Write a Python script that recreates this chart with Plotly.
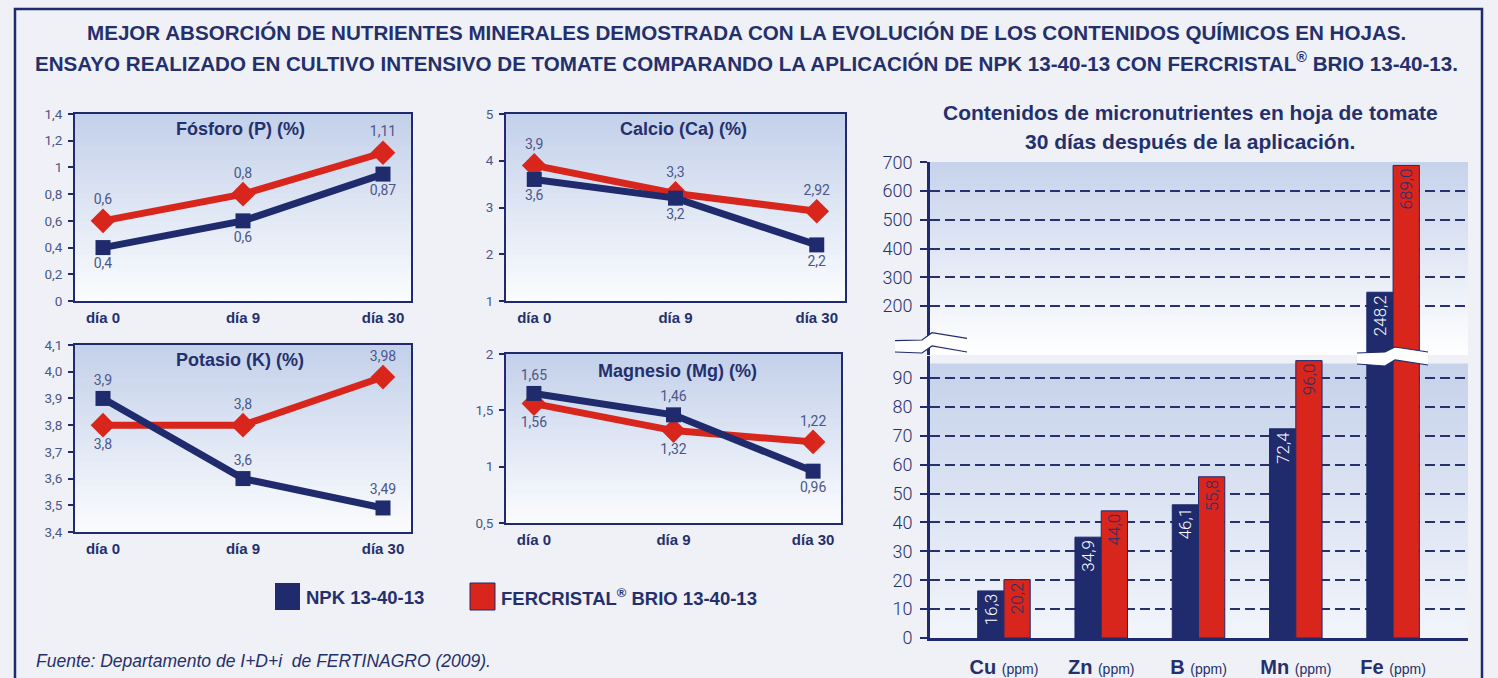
import plotly.graph_objects as go

W, H = 1498, 678
NAVY = '#1f2b6c'
RED = '#d8261d'
TXT = '#24306c'
LBL = '#4b5789'
BG = '#eff1f6'
SANS = 'Liberation Sans, Arial, sans-serif'
LIGHT = 'Roboto, Lato, sans-serif'

# ---------------- data ----------------
days = ['día 0', 'día 9', 'día 30']
name_npk = 'NPK 13-40-13'
name_fer = 'FERCRISTAL<sup>®</sup> BRIO 13-40-13'

p_npk = [0.4, 0.6, 0.95]
p_npk_labels = ['0,4', '0,6', '0,87']
p_fer = [0.6, 0.8, 1.11]
p_fer_labels = ['0,6', '0,8', '1,11']

ca_npk = [3.6, 3.2, 2.2]
ca_fer = [3.9, 3.3, 2.92]

k_npk = [3.9, 3.6, 3.49]
k_fer = [3.8, 3.8, 3.98]

mg_npk = [1.65, 1.46, 0.96]
mg_fer = [1.56, 1.32, 1.22]

p_ticks = [0, 0.2, 0.4, 0.6, 0.8, 1.0, 1.2, 1.4]
p_ticktext = ['0', '0,2', '0,4', '0,6', '0,8', '1', '1,2', '1,4']
ca_ticks = [1, 2, 3, 4, 5]
ca_ticktext = ['1', '2', '3', '4', '5']
k_ticks = [3.4, 3.5, 3.6, 3.7, 3.8, 3.9, 4.0, 4.1]
k_ticktext = ['3,4', '3,5', '3,6', '3,7', '3,8', '3,9', '4,0', '4,1']
mg_ticks = [0.5, 1.0, 1.5, 2.0]
mg_ticktext = ['0,5', '1', '1,5', '2']

elements = ['Cu', 'Zn', 'B', 'Mn', 'Fe']
element_ticktext = ['<b>Cu</b> <span style="font-size:14px">(ppm)</span>',
                    '<b>Zn</b> <span style="font-size:14px">(ppm)</span>',
                    '<b>B</b> <span style="font-size:14px">(ppm)</span>',
                    '<b>Mn</b> <span style="font-size:14px">(ppm)</span>',
                    '<b>Fe</b> <span style="font-size:14px">(ppm)</span>']
micro_npk = [16.3, 34.9, 46.1, 72.4, 248.2]
micro_fer = [20.2, 44.0, 55.8, 96.0, 689.0]
low_ticks = [0, 10, 20, 30, 40, 50, 60, 70, 80, 90]
high_ticks = [200, 300, 400, 500, 600, 700]


# ---------------- helpers ----------------
def fx(px):
    return px / W


def fy(py):
    return 1 - py / H


def fmt(v):
    return ('%g' % v).replace('.', ',')


def fmt1(v):
    return ('%.1f' % v).replace('.', ',')


def hex2rgb(h):
    h = h.lstrip('#')
    return [int(h[i:i + 2], 16) for i in (0, 2, 4)]


def mix(c_bottom, c_top, t):
    a, b = hex2rgb(c_bottom), hex2rgb(c_top)
    return 'rgb(%d,%d,%d)' % tuple(round(a[i] + (b[i] - a[i]) * t) for i in range(3))


shapes = []
annotations = []


def gradient(xref, yref, y0, y1, top, bottom, n=40):
    step = (y1 - y0) / n
    for k in range(n):
        lo = y0 + step * k
        hi = lo + step * (1.0 if k == n - 1 else 1.6)
        shapes.append(dict(type='rect', xref=xref, yref=yref, x0=0, x1=1, y0=lo, y1=hi,
                           fillcolor=mix(bottom, top, (k + 0.5) / n), line=dict(width=0),
                           layer='below'))


def path(points, close=False):
    s = 'M ' + ' L '.join('%.5f,%.5f' % (fx(x), fy(y)) for x, y in points)
    return s + (' Z' if close else '')


def bold(size):
    return dict(family=SANS, size=size, color=TXT, weight='bold')


fig = go.Figure()
layout = {}

# ---------------- small line charts ----------------
panels = [
    dict(title='Fósforo (P) (%)', npk=p_npk, fer=p_fer, npk_text=p_npk_labels, fer_text=p_fer_labels,
         box=(75, 411, 114, 301), rng=[0, 1.4], tv=p_ticks, tt=p_ticktext, tpos=(241, 129),
         npk_pos=['bottom center'] * 3, fer_pos=['top center'] * 3),
    dict(title='Calcio (Ca) (%)', npk=ca_npk, fer=ca_fer, npk_text=[fmt(v) for v in ca_npk],
         fer_text=[fmt(v) for v in ca_fer],
         box=(506, 845, 114, 301), rng=[1, 5], tv=ca_ticks, tt=ca_ticktext, tpos=(683, 129),
         npk_pos=['bottom center'] * 3, fer_pos=['top center'] * 3),
    dict(title='Potasio (K) (%)', npk=k_npk, fer=k_fer, npk_text=[fmt(v) for v in k_npk],
         fer_text=[fmt(v) for v in k_fer],
         box=(75, 411, 345, 532), rng=[3.4, 4.1], tv=k_ticks, tt=k_ticktext, tpos=(240, 360),
         npk_pos=['top center'] * 3, fer_pos=['bottom center', 'top center', 'top center']),
    dict(title='Magnesio (Mg) (%)', npk=mg_npk, fer=mg_fer, npk_text=[fmt(v) for v in mg_npk],
         fer_text=[fmt(v) for v in mg_fer],
         box=(506, 841, 354, 523), rng=[0.5, 2], tv=mg_ticks, tt=mg_ticktext, tpos=(677, 371),
         npk_pos=['top center', 'top center', 'bottom center'],
         fer_pos=['bottom center', 'bottom center', 'top center']),
]

for i, p in enumerate(panels, start=1):
    sfx = '' if i == 1 else str(i)
    xa, ya = 'x' + sfx, 'y' + sfx
    l, r, t, b = p['box']
    layout['xaxis' + sfx] = dict(
        domain=[fx(l), fx(r)], anchor=ya, type='category', categoryorder='array',
        categoryarray=days, range=[-0.2, 2.2], showline=True, mirror=True, linecolor=NAVY,
        linewidth=2, ticks='', showgrid=False, zeroline=False, fixedrange=True,
        automargin=False, tickfont=dict(family=SANS, size=15, color=TXT, weight='bold'),
        ticklabelstandoff=2)
    layout['yaxis' + sfx] = dict(
        domain=[fy(b), fy(t)], anchor=xa, range=p['rng'], tickvals=p['tv'], ticktext=p['tt'],
        ticks='outside', ticklen=5, tickcolor=NAVY, tickwidth=1.5, showline=True, mirror=True,
        linecolor=NAVY, linewidth=2, showgrid=False, zeroline=False, fixedrange=True,
        automargin=False, tickfont=dict(family=LIGHT, size=13.5, color=LBL), ticklabelstandoff=3)
    gradient(xa + ' domain', ya + ' domain', 0, 1, '#c3d0ea', '#fbfcfe')
    fig.add_trace(go.Scatter(
        x=days, y=p['fer'], xaxis=xa, yaxis=ya, mode='lines+markers+text', name=name_fer,
        line=dict(color=RED, width=7), marker=dict(symbol='diamond', size=19, color=RED),
        text=p['fer_text'], textposition=p['fer_pos'], cliponaxis=False, showlegend=False,
        textfont=dict(family=LIGHT, size=14, color=LBL)))
    fig.add_trace(go.Scatter(
        x=days, y=p['npk'], xaxis=xa, yaxis=ya, mode='lines+markers+text', name=name_npk,
        line=dict(color=NAVY, width=7), marker=dict(symbol='square', size=15, color=NAVY),
        text=p['npk_text'], textposition=p['npk_pos'], cliponaxis=False, showlegend=False,
        textfont=dict(family=LIGHT, size=14, color=LBL)))
    annotations.append(dict(text=p['title'], xref='paper', yref='paper',
                            x=fx(p['tpos'][0]), y=fy(p['tpos'][1]), showarrow=False,
                            xanchor='center', yanchor='middle', font=bold(18)))

# ---------------- micronutrient bar chart (broken axis) ----------------
X_L, X_R = 930, 1468
LOW_TOP, LOW_BOT = 356, 638
HIGH_TOP, HIGH_BOT = 162, 355
low_range = [0, 97.6]
high_range = [30, 701]
xr = [-0.76, 4.77]

low_npk_text = [fmt1(v) if v <= low_range[1] else '' for v in micro_npk]
low_fer_text = [fmt1(v) if v <= low_range[1] else '' for v in micro_fer]
high_npk = [v if v > low_range[1] else None for v in micro_npk]
high_fer = [v if v > low_range[1] else None for v in micro_fer]
high_npk_text = [fmt1(v) if v > low_range[1] else '' for v in micro_npk]
high_fer_text = [fmt1(v) if v > low_range[1] else '' for v in micro_fer]

grid = dict(showgrid=True, gridcolor='#26326e', gridwidth=1.5, griddash='10px,5px')
ytickfont = dict(family=LIGHT, size=18, color=TXT, weight=300)

layout['xaxis5'] = dict(domain=[fx(X_L), fx(X_R)], anchor='y5', type='category',
                        categoryorder='array', categoryarray=elements, range=xr,
                        tickvals=elements, ticktext=element_ticktext, ticks='',
                        showline=True, linecolor=NAVY, linewidth=3, showgrid=False,
                        zeroline=False, fixedrange=True, automargin=False, ticklabelstandoff=9,
                        tickfont=dict(family=SANS, size=20, color=TXT))
layout['yaxis5'] = dict(domain=[fy(LOW_BOT), fy(LOW_TOP)], anchor='x5', range=low_range,
                        tickvals=low_ticks, ticks='outside', ticklen=7, tickcolor=NAVY,
                        tickwidth=2, showline=True, linecolor=NAVY, linewidth=3,
                        zeroline=False, fixedrange=True, automargin=False, tickfont=ytickfont,
                        ticklabelstandoff=4, **grid)
layout['xaxis6'] = dict(domain=[fx(X_L), fx(X_R)], anchor='y6', type='category',
                        categoryorder='array', categoryarray=elements, range=xr,
                        showticklabels=False, ticks='', showline=False, showgrid=False,
                        zeroline=False, fixedrange=True, automargin=False)
layout['yaxis6'] = dict(domain=[fy(HIGH_BOT), fy(HIGH_TOP)], anchor='x6', range=high_range,
                        tickvals=high_ticks, ticks='outside', ticklen=7, tickcolor=NAVY,
                        tickwidth=2, showline=True, linecolor=NAVY, linewidth=3,
                        zeroline=False, fixedrange=True, automargin=False, tickfont=ytickfont,
                        ticklabelstandoff=4, **grid)

gradient('x5 domain', 'y5', 0, 95, '#c6d2eb', '#f2f5fb')
gradient('x6 domain', 'y6 domain', 0, 1, '#c6d2eb', '#ffffff')

barfont_w = dict(family=LIGHT, size=17, color='white', weight=300)
barfont_n = dict(family=LIGHT, size=17, color=TXT, weight=300)
common = dict(textposition='inside', insidetextanchor='end', textangle=-90, showlegend=False)
fig.add_trace(go.Bar(x=elements, y=micro_npk, xaxis='x5', yaxis='y5', name=name_npk,
                     text=low_npk_text, textfont=barfont_w,
                     marker=dict(color=NAVY, line=dict(color=NAVY, width=1)), **common))
fig.add_trace(go.Bar(x=elements, y=micro_fer, xaxis='x5', yaxis='y5', name=name_fer,
                     text=low_fer_text, textfont=barfont_n,
                     marker=dict(color=RED, line=dict(color=NAVY, width=1)), **common))
fig.add_trace(go.Bar(x=elements, y=high_npk, xaxis='x6', yaxis='y6', name=name_npk,
                     text=high_npk_text, textfont=barfont_w,
                     marker=dict(color=NAVY, line=dict(color=NAVY, width=1)), **common))
fig.add_trace(go.Bar(x=elements, y=high_fer, xaxis='x6', yaxis='y6', name=name_fer,
                     text=high_fer_text, textfont=barfont_n,
                     marker=dict(color=RED, line=dict(color=NAVY, width=1)), **common))

# axis-break symbols
brk_axis_top = [(895, 340.7), (922, 340), (932, 332.7), (967, 338.3)]
brk_axis_bot = [(967, 352), (932, 346), (922, 353), (895, 352)]
brk_fe_top = [(1357, 353), (1385, 352), (1395, 347), (1428, 352)]
brk_fe_bot = [(1428, 365), (1395, 360), (1385, 366), (1357, 364)]
for top, bot in ((brk_axis_top, brk_axis_bot), (brk_fe_top, brk_fe_bot)):
    shapes.append(dict(type='path', xref='paper', yref='paper', path=path(top + bot, True),
                       fillcolor='white', line=dict(width=0), layer='above'))
    shapes.append(dict(type='path', xref='paper', yref='paper', path=path(top),
                       line=dict(color=NAVY, width=1.2), layer='above'))
    shapes.append(dict(type='path', xref='paper', yref='paper', path=path(bot),
                       line=dict(color=NAVY, width=1.2), layer='above'))

# frame
shapes.append(dict(type='path', xref='paper', yref='paper',
                   path=path([(15, 680), (15, 9), (1482, 9), (1482, 680)]),
                   line=dict(color=NAVY, width=2.5), layer='above'))

# legend
shapes.append(dict(type='rect', xref='paper', yref='paper', x0=fx(275), x1=fx(300),
                   y0=fy(610), y1=fy(583), fillcolor=NAVY, line=dict(width=0)))
shapes.append(dict(type='rect', xref='paper', yref='paper', x0=fx(470), x1=fx(495),
                   y0=fy(610), y1=fy(583), fillcolor=RED, line=dict(color=NAVY, width=1)))
annotations.append(dict(text=name_npk, xref='paper', yref='paper', x=fx(304),
                        y=fy(597), showarrow=False, xanchor='left', yanchor='middle',
                        font=bold(18.5)))
annotations.append(dict(text=name_fer, xref='paper', yref='paper', x=fx(499),
                        y=fy(597), showarrow=False, xanchor='left', yanchor='middle',
                        font=bold(18.5)))

# titles
annotations.append(dict(
    text='MEJOR ABSORCIÓN DE NUTRIENTES MINERALES DEMOSTRADA CON LA EVOLUCIÓN DE LOS CONTENIDOS QUÍMICOS EN HOJAS.',
    xref='paper', yref='paper', x=fx(746.5), y=fy(33), showarrow=False, xanchor='center',
    yanchor='middle', font=bold(20.6)))
annotations.append(dict(
    text='ENSAYO REALIZADO EN CULTIVO INTENSIVO DE TOMATE COMPARANDO LA APLICACIÓN DE NPK 13-40-13 CON FERCRISTAL<sup>®</sup> BRIO 13-40-13.',
    xref='paper', yref='paper', x=fx(746.5), y=fy(62), showarrow=False, xanchor='center',
    yanchor='middle', font=bold(20.6)))
annotations.append(dict(
    text='Contenidos de micronutrientes en hoja de tomate', xref='paper', yref='paper',
    x=fx(1190), y=fy(112), showarrow=False, xanchor='center', yanchor='middle',
    font=bold(21)))
annotations.append(dict(
    text='30 días después de la aplicación.', xref='paper', yref='paper',
    x=fx(1190), y=fy(142), showarrow=False, xanchor='center', yanchor='middle',
    font=bold(21)))
annotations.append(dict(
    text='<i>Fuente: Departamento de I+D+i  de FERTINAGRO (2009).</i>', xref='paper',
    yref='paper', x=fx(34), y=fy(661), showarrow=False, xanchor='left', yanchor='middle',
    font=dict(family=SANS, size=17.5, color=TXT)))

fig.update_layout(
    template='none',
    width=W, height=H, autosize=False, margin=dict(l=0, r=0, t=0, b=0, pad=0),
    paper_bgcolor=BG, plot_bgcolor='rgba(0,0,0,0)', barmode='group', bargap=0.46,
    bargroupgap=0, showlegend=False, shapes=shapes, annotations=annotations,
    font=dict(family=SANS, color=TXT), **layout)

fig.write_html('out.html', config={'displayModeBar': False},
               post_script="document.body.style.margin='0';document.body.style.background='%s';" % BG)
